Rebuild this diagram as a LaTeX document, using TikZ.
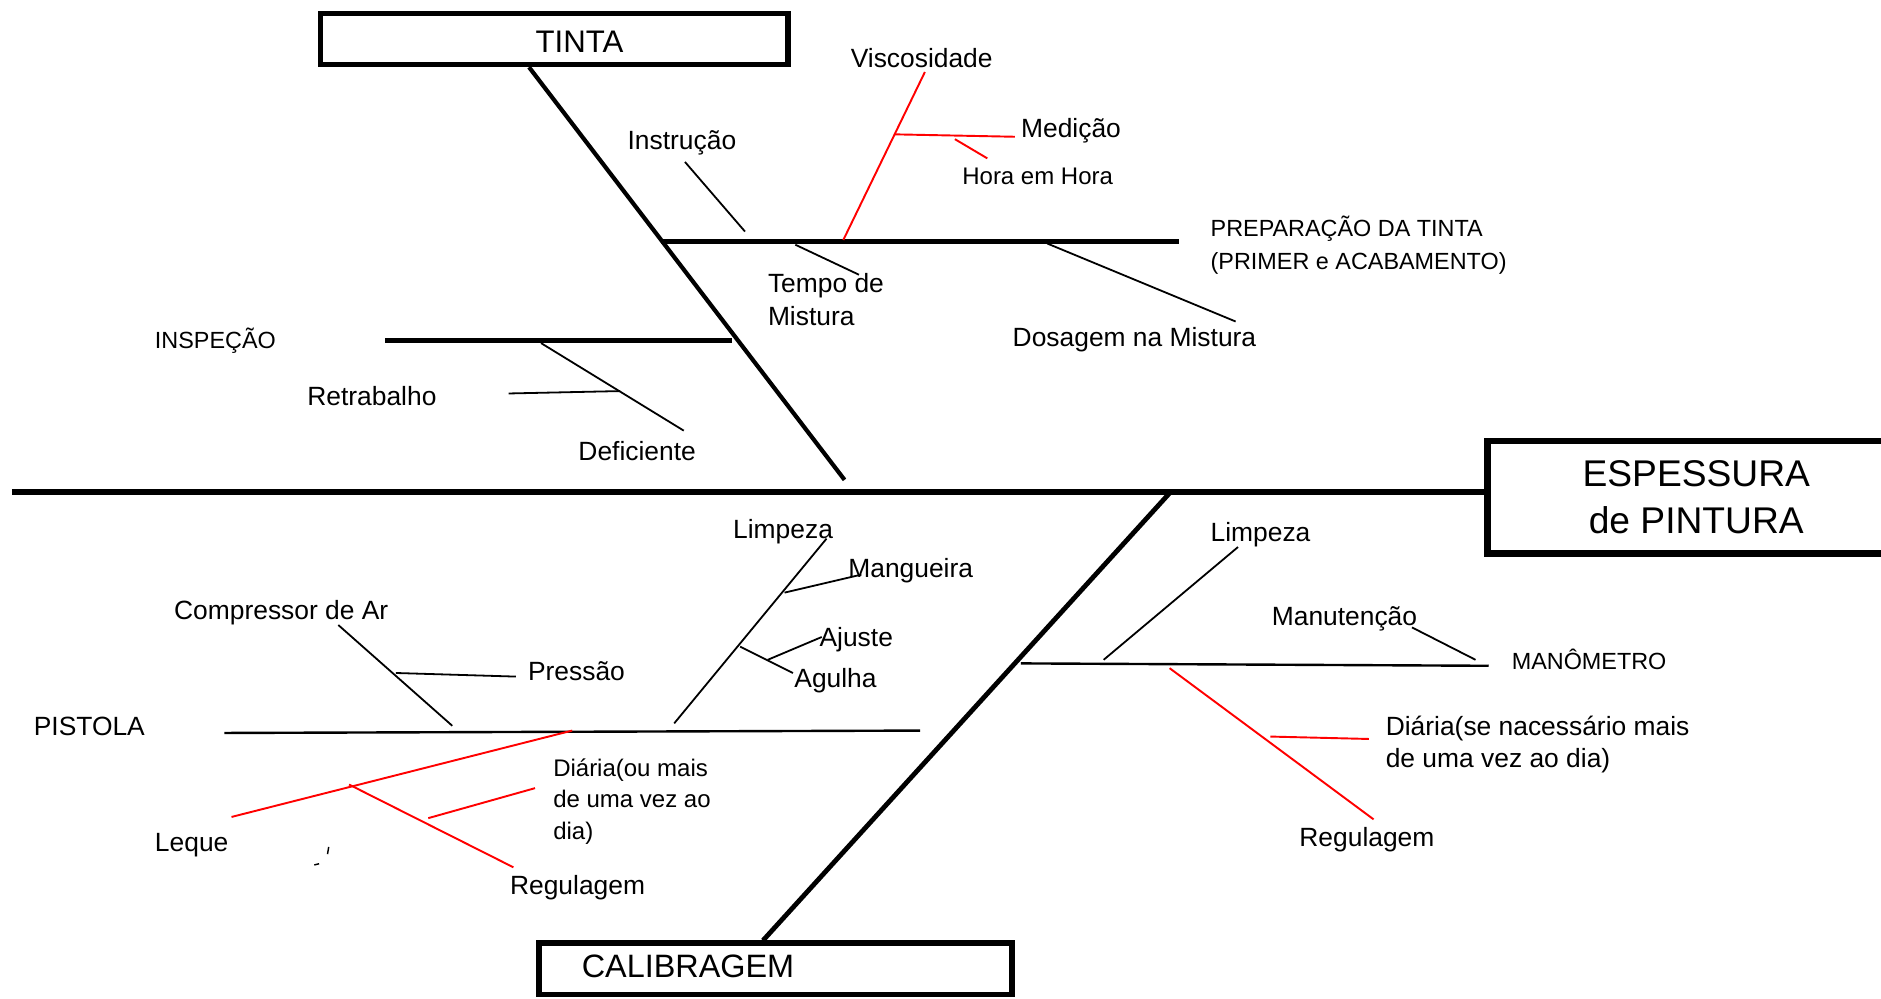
\documentclass[tikz,border=0pt]{standalone}
\usepackage{fontspec}
\setmainfont{Liberation Sans}
\newcommand{\stacklines}[1]{\begin{tabular}[t]{@{}l@{}}#1\end{tabular}}
\begin{document}
\begin{tikzpicture}[x=1pt,y=-1pt,
  spine/.style={line width=5pt},
  bone/.style={line width=4pt},
  twig/.style={line width=1.5pt},
  redtwig/.style={line width=1.6pt, red},
  lbl/.style={inner sep=0pt, anchor=base west, font=\fontsize{22}{27}\selectfont},
  lblmid/.style={lbl, font=\fontsize{20}{26}\selectfont},
  lblsm/.style={lbl, font=\fontsize{19.5}{27}\selectfont},
  headbox/.style={draw, line width=4.5pt, inner sep=0pt},
]
\useasboundingbox (0,0) rectangle (1568,832);
\clip (0,0) rectangle (1568,832);

% ---------- effect box and main spine ----------
\node (esp) [draw, line width=5.5pt, minimum width=348.5pt, minimum height=93.5pt,
  align=center, font=\fontsize{31}{39}\selectfont] at (1414,414.5) {ESPESSURA\\de PINTURA};
\coordinate (tail) at (10,410);
\draw[spine] (tail) -- (tail -| esp.west);

% ---------- category boxes ----------
\node (tinta) [headbox, minimum width=389.5pt, minimum height=42.5pt] at (462,32.5) {};
\node (tintatxt) [inner sep=0pt, anchor=base, font=\fontsize{26}{30}\selectfont] at (483,44) {TINTA};
\node (calib) [headbox, minimum width=394.5pt, minimum height=42.75pt] at (646.5,807.6) {};
\node (calibtxt) [inner sep=0pt, anchor=base, font=\fontsize{27}{30}\selectfont] at (573.5,814.7) {CALIBRAGEM};

% ---------- upper bones ----------
\coordinate (tintaTop) at (441,56);
\coordinate (tintaEnd) at (704,400);
\draw[line width=3.5pt] (tintaTop) -- (tintaEnd);

\coordinate (prepL) at (551,201);
\coordinate (prepR) at (983,201);
\draw[bone] (prepL) -- (prepR);
\node (prep) [lblsm] at (1009,197.5) {\stacklines{PREPARAÇÃO DA TINTA\\(PRIMER e ACABAMENTO)}};

\coordinate (inspL) at (321,284);
\coordinate (inspR) at (610,284);
\draw[bone] (inspL) -- (inspR);
\node (insp) [lblsm] at (129,290.5) {INSPEÇÃO};

% causes on PREPARAÇÃO DA TINTA
\coordinate (instA) at (571,135);
\coordinate (instB) at (621,193);
\draw[twig] (instA) -- (instB);
\node (inst) [lbl] at (523,125) {Instrução};

\coordinate (viscA) at (771,60);
\coordinate (viscB) at (703,200);
\draw[redtwig] (viscA) -- (viscB);
\node (visc) [lbl] at (709,56) {Viscosidade};

\coordinate (medA) at (746,112);
\coordinate (medB) at (846,114);
\draw[redtwig] (medA) -- (medB);
\node (med) [lbl] at (851,115) {Medição};

\coordinate (horaA) at (796,116);
\coordinate (horaB) at (823,132);
\draw[redtwig] (horaA) -- (horaB);
\node (hora) [lblmid] at (802,154) {Hora em Hora};

\coordinate (tempA) at (663,204);
\coordinate (tempB) at (716,229);
\draw[twig] (tempA) -- (tempB);
\node (temp) [lbl] at (640,244) {\stacklines{Tempo de\\Mistura}};

\coordinate (dosA) at (873,203);
\coordinate (dosB) at (1030,268);
\draw[twig] (dosA) -- (dosB);
\node (dos) [lbl] at (844,289) {Dosagem na Mistura};

% causes on INSPEÇÃO
\coordinate (defA) at (451,286);
\coordinate (defB) at (570,359);
\draw[twig] (defA) -- (defB);
\node (def) [lbl] at (482,384) {Deficiente};

\coordinate (retA) at (424,328);
\coordinate (retB) at (517,326);
\draw[twig] (retA) -- (retB);
\node (ret) [lbl] at (256,338) {Retrabalho};

% ---------- lower bones ----------
\coordinate (calibTop) at (975,411);
\coordinate (calibEnd) at (636,784);
\draw[bone] (calibTop) -- (calibEnd);

% PISTOLA
\coordinate (pistL) at (187,611);
\coordinate (pistR) at (767,609);
\draw[line width=2pt] (pistL) -- (pistR);
\node (pist) [lbl] at (28,613) {PISTOLA};

\coordinate (compA) at (282,521);
\coordinate (compB) at (377,605);
\draw[twig] (compA) -- (compB);
\node (comp) [lbl] at (145,516) {Compressor de Ar};

\coordinate (presA) at (330,561);
\coordinate (presB) at (430,564);
\draw[twig] (presA) -- (presB);
\node (pres) [lbl] at (440,567) {Pressão};

\coordinate (limpA) at (562,603);
\coordinate (limpB) at (689,449);
\draw[twig] (limpA) -- (limpB);
\node (limp) [lbl] at (611,449) {Limpeza};

\coordinate (mangA) at (654,494);
\coordinate (mangB) at (718,479);
\draw[twig] (mangA) -- (mangB);
\node (mang) [lbl] at (707,481.5) {Mangueira};

\coordinate (agulA) at (617,539);
\coordinate (agulB) at (661,561);
\draw[twig] (agulA) -- (agulB);
\node (agul) [lbl] at (662,573) {Agulha};

\coordinate (ajusA) at (640,550);
\coordinate (ajusB) at (685,531);
\draw[twig] (ajusA) -- (ajusB);
\node (ajus) [lbl] at (683,538.5) {Ajuste};

\coordinate (lequA) at (193,681);
\coordinate (lequB) at (477,609);
\draw[redtwig] (lequA) -- (lequB);
\node (lequ) [lbl] at (129,710) {Leque};

\coordinate (regLA) at (291,654);
\coordinate (regLB) at (428,723);
\draw[redtwig] (regLA) -- (regLB);
\node (regL) [lbl] at (425,746) {Regulagem};

\coordinate (diaLA) at (357,682);
\coordinate (diaLB) at (446,657);
\draw[redtwig] (diaLA) -- (diaLB);
\node (diaL) [lblmid] at (461,647.5) {\stacklines{Diária(ou mais\\de uma vez ao\\dia)}};

% small pen marks
\coordinate (markA) at (274,706);
\coordinate (markB) at (273,712);
\coordinate (markC) at (262,721);
\coordinate (markD) at (266,720);
\draw[line width=1.2pt] (markA) -- (markB);
\draw[line width=1.2pt] (markC) -- (markD);

% MANÔMETRO
\coordinate (manoL) at (851,553);
\coordinate (manoR) at (1241,555);
\draw[line width=2pt] (manoL) -- (manoR);
\node (mano) [lblsm] at (1260,558) {MANÔMETRO};

\coordinate (limpRA) at (920,550);
\coordinate (limpRB) at (1032,456);
\draw[twig] (limpRA) -- (limpRB);
\node (limpR) [lbl] at (1009,451) {Limpeza};

\coordinate (manuA) at (1177,523);
\coordinate (manuB) at (1230,550);
\draw[twig] (manuA) -- (manuB);
\node (manu) [lbl] at (1060,521) {Manutenção};

\coordinate (regRA) at (975,557);
\coordinate (regRB) at (1145,683);
\draw[redtwig] (regRA) -- (regRB);
\node (regR) [lbl] at (1083,706) {Regulagem};

\coordinate (diaRA) at (1059,614);
\coordinate (diaRB) at (1141,616);
\draw[redtwig] (diaRA) -- (diaRB);
\node (diaR) [lbl] at (1155,613) {\stacklines{Diária(se nacessário mais\\de uma vez ao dia)}};
\end{tikzpicture}
\end{document}
